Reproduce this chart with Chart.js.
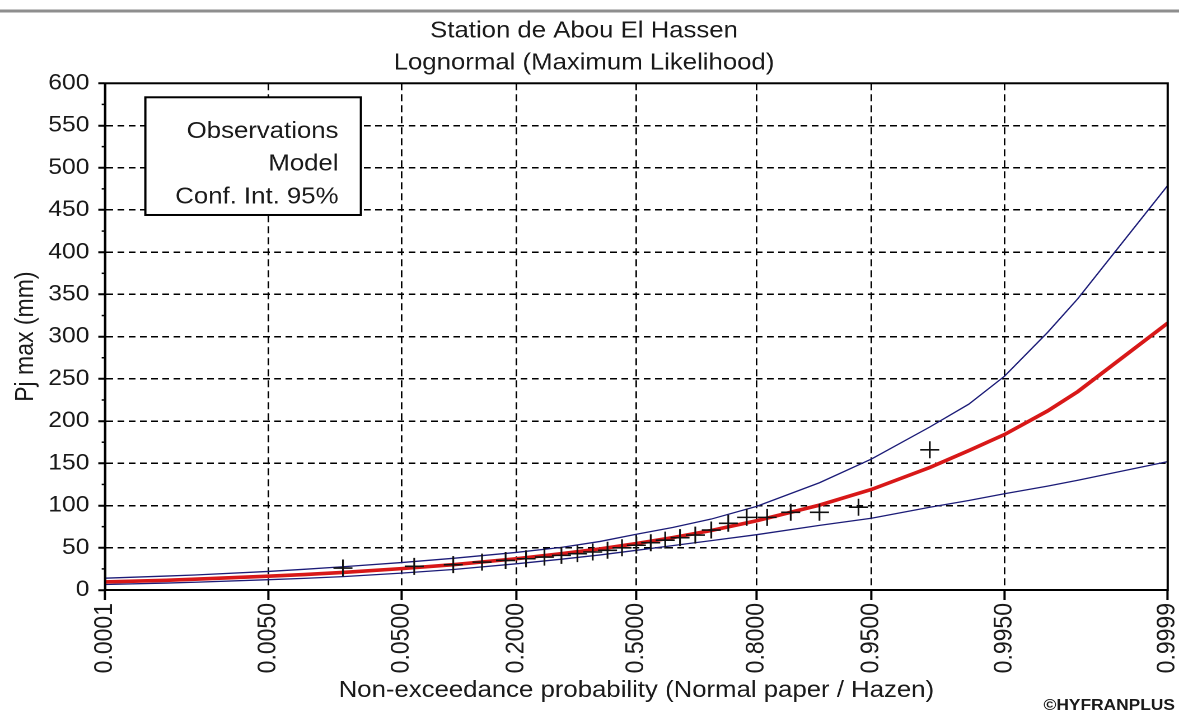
<!DOCTYPE html>
<html>
<head>
<meta charset="utf-8">
<title>Station de Abou El Hassen</title>
<script src="https://cdn.jsdelivr.net/npm/chart.js@4.4.1/dist/chart.umd.min.js"></script>
<style>
  html, body { margin: 0; padding: 0; background: #ffffff; overflow: hidden; }
  /* The chart is laid out on a 1053 px canvas and widened to fill the 1179 px window */
  #frame { position: relative; width: 1053px; height: 715px; transform: scaleX(1.119658); transform-origin: 0 0; }
</style>
</head>
<body>
<div id="frame"><canvas id="chart"></canvas></div>
<script>
// ---- Texts ----
const TITLE_LINES = ['Station de Abou El Hassen', 'Lognormal (Maximum Likelihood)'];
const X_TITLE = 'Non-exceedance probability (Normal paper / Hazen)';
const Y_TITLE = 'Pj max (mm)';
const CREDIT = '\u00A9HYFRANPLUS';

// ---- Probability axis ticks ----
const TICK_P = [0.0001, 0.005, 0.05, 0.2, 0.5, 0.8, 0.95, 0.995, 0.9999];
const TICK_LABELS = ['0.0001', '0.0050', '0.0500', '0.2000', '0.5000', '0.8000', '0.9500', '0.9950', '0.9999'];

// ---- Fitted lognormal quantiles and 95 % confidence bounds (mm) ----
const CURVE_P = [0.0001, 0.0005, 0.001, 0.005, 0.01, 0.02, 0.05, 0.1, 0.2, 0.3, 0.4, 0.5,
                 0.6, 0.7, 0.8, 0.9, 0.95, 0.98, 0.99, 0.995, 0.998, 0.999, 0.9999];
const MODEL    = [9.5, 11.5, 12.8, 16.3, 18.3, 20.8, 25.3, 30.0, 37.0, 43.0, 48.7, 55.0,
                  62.0, 70.5, 82.0, 100.5, 119.0, 145.0, 165.0, 184.0, 212.0, 235.0, 316.0];
const CI_UPPER = [14.0, 16.5, 17.8, 22.0, 24.5, 27.5, 32.5, 37.5, 44.5, 50.5, 57.5, 66.0,
                  74.0, 84.0, 99.0, 127.0, 155.0, 193.0, 220.0, 253.0, 305.0, 345.0, 479.0];
const CI_LOWER = [6.5, 8.2, 9.2, 12.2, 13.8, 15.8, 20.0, 24.3, 31.0, 36.5, 41.5, 47.0,
                  52.5, 58.5, 65.5, 76.5, 85.0, 98.0, 106.0, 114.0, 123.0, 130.0, 152.0];

// ---- Observed annual maxima with Hazen plotting positions ----
const OBS_P   = [0.02, 0.06, 0.10, 0.14, 0.18, 0.22, 0.26, 0.30, 0.34, 0.38, 0.42, 0.46, 0.50,
                 0.54, 0.58, 0.62, 0.66, 0.70, 0.74, 0.78, 0.82, 0.86, 0.90, 0.94, 0.98];
const OBS_VAL = [26, 28, 30, 33, 35, 37, 39, 41, 43, 45, 47, 50, 53,
                 56, 59, 62, 65, 71, 79, 86, 86, 92, 92, 98, 166];

const FONT = '"Liberation Sans", Arial, sans-serif';
const TEXT = '#1a1a1a';

// Inverse of the standard normal CDF (Acklam's rational approximation)
function probit(p) {
  const a = [-3.969683028665376e+01, 2.209460984245205e+02, -2.759285104469687e+02,
             1.383577518672690e+02, -3.066479806614716e+01, 2.506628277459239e+00];
  const b = [-5.447609879822406e+01, 1.615858368580409e+02, -1.556989798598866e+02,
             6.680131188771972e+01, -1.328068155288572e+01];
  const c = [-7.784894002430293e-03, -3.223964580411365e-01, -2.400758277161838e+00,
             -2.549732539343734e+00, 4.374664141464968e+00, 2.938163982698783e+00];
  const d = [7.784695709041462e-03, 3.224671290700398e-01, 2.445134137142996e+00,
             3.754408661907416e+00];
  const pl = 0.02425;
  let q, r;
  if (p < pl) {
    q = Math.sqrt(-2 * Math.log(p));
    return (((((c[0]*q + c[1])*q + c[2])*q + c[3])*q + c[4])*q + c[5]) /
           ((((d[0]*q + d[1])*q + d[2])*q + d[3])*q + 1);
  }
  if (p > 1 - pl) {
    q = Math.sqrt(-2 * Math.log(1 - p));
    return -(((((c[0]*q + c[1])*q + c[2])*q + c[3])*q + c[4])*q + c[5]) /
            ((((d[0]*q + d[1])*q + d[2])*q + d[3])*q + 1);
  }
  q = p - 0.5; r = q * q;
  return (((((a[0]*r + a[1])*r + a[2])*r + a[3])*r + a[4])*r + a[5]) * q /
         (((((b[0]*r + b[1])*r + b[2])*r + b[3])*r + b[4])*r + 1);
}
function normalCdf(z) {
  let lo = 1e-12, hi = 1 - 1e-12;
  for (let i = 0; i < 80; i++) {
    const mid = (lo + hi) / 2;
    if (probit(mid) < z) lo = mid; else hi = mid;
  }
  return (lo + hi) / 2;
}

// Normal probability paper: positions are linear in the standard normal variate
class ProbitScale extends Chart.Scale {
  static id = 'probit';
  static defaults = {};
  parse(raw) {
    if (raw === null || raw === undefined) return null;
    const v = +raw;
    return Number.isFinite(v) && v > 0 && v < 1 ? v : null;
  }
  determineDataLimits() {
    const { min, max } = this.getUserBounds();
    this.min = min;
    this.max = max;
  }
  buildTicks() {
    return TICK_P.map(value => ({ value }));
  }
  getLabelForValue(value) {
    return String(value);
  }
  configure() {
    super.configure();
    this._zMin = probit(this.min);
    this._zRange = probit(this.max) - this._zMin;
  }
  getPixelForValue(value) {
    if (value === null || value === undefined || isNaN(value)) return NaN;
    return this.getPixelForDecimal((probit(value) - this._zMin) / this._zRange);
  }
  getValueForPixel(pixel) {
    return normalCdf(this._zMin + this.getDecimalForPixel(pixel) * this._zRange);
  }
}
Chart.register(ProbitScale);

const toPoints = (ps, vs) => ps.map((p, i) => ({ x: p, y: vs[i] }));

// White page with the grey rule along the top, plus the credit line
const pagePlugin = {
  id: 'page',
  beforeDraw(chart) {
    const { ctx, width, height } = chart;
    ctx.save();
    ctx.fillStyle = '#ffffff';
    ctx.fillRect(0, 0, width, height);
    ctx.strokeStyle = '#8e8e8e';
    ctx.lineWidth = 3;
    ctx.beginPath();
    ctx.moveTo(0, 11);
    ctx.lineTo(width, 11);
    ctx.stroke();
    ctx.restore();
  },
  afterDraw(chart) {
    const { ctx, width } = chart;
    ctx.save();
    ctx.font = 'bold 15.5px ' + FONT;
    ctx.fillStyle = TEXT;
    ctx.textAlign = 'right';
    ctx.textBaseline = 'middle';
    ctx.fillText(CREDIT, width - 3.6, 705.5);
    ctx.restore();
  }
};

// Closed frame around the plot and short minor ticks on the value axis
const framePlugin = {
  id: 'plotFrame',
  afterDatasetsDraw(chart) {
    const { ctx, chartArea: a, scales: { y } } = chart;
    ctx.save();
    ctx.strokeStyle = '#000000';
    ctx.lineWidth = 2;
    ctx.strokeRect(a.left, a.top, a.right - a.left, a.bottom - a.top);
    ctx.lineWidth = 1.5;
    const t = y.ticks;
    for (let i = 0; i < t.length - 1; i++) {
      const py = y.getPixelForValue((t[i].value + t[i + 1].value) / 2);
      ctx.beginPath();
      ctx.moveTo(a.left - 3, py);
      ctx.lineTo(a.left, py);
      ctx.stroke();
    }
    ctx.restore();
  }
};

// Boxed key with the series names, right-aligned
const keyPlugin = {
  id: 'keyBox',
  afterDraw(chart) {
    const { ctx, chartArea: a } = chart;
    const names = [];
    chart.data.datasets.forEach(ds => { if (!names.includes(ds.label)) names.push(ds.label); });
    const left = a.left + 36, top = a.top + 14, w = 192.5, h = 117.7;
    ctx.save();
    ctx.fillStyle = '#ffffff';
    ctx.fillRect(left, top, w, h);
    ctx.strokeStyle = '#000000';
    ctx.lineWidth = 2;
    ctx.strokeRect(left, top, w, h);
    ctx.font = '23px ' + FONT;
    ctx.fillStyle = TEXT;
    ctx.textAlign = 'right';
    ctx.textBaseline = 'middle';
    names.forEach((n, i) => ctx.fillText(n, left + w - 20, top + 34.5 + i * 32.6));
    ctx.restore();
  }
};

new Chart(document.getElementById('chart'), {
  type: 'line',
  data: {
    datasets: [
      {
        label: 'Observations',
        data: toPoints(OBS_P, OBS_VAL),
        showLine: false,
        pointStyle: 'cross',
        pointRadius: 8.5,
        pointBorderWidth: 1.6,
        pointBorderColor: '#111111',
        borderColor: '#111111',
        order: 0
      },
      {
        label: 'Model',
        data: toPoints(CURVE_P, MODEL),
        borderColor: '#d81818',
        borderWidth: 3.6,
        pointRadius: 0,
        tension: 0,
        order: 1
      },
      {
        label: 'Conf. Int. 95%',
        data: toPoints(CURVE_P, CI_UPPER),
        borderColor: '#1c1c78',
        borderWidth: 1.3,
        pointRadius: 0,
        tension: 0,
        order: 2
      },
      {
        label: 'Conf. Int. 95%',
        data: toPoints(CURVE_P, CI_LOWER),
        borderColor: '#1c1c78',
        borderWidth: 1.3,
        pointRadius: 0,
        tension: 0,
        order: 3
      }
    ]
  },
  options: {
    responsive: true,
    maintainAspectRatio: false,
    animation: false,
    devicePixelRatio: 2,
    events: [],
    layout: { padding: { left: 0, top: 0, right: 9.8, bottom: 0 } },
    plugins: {
      legend: { display: false },
      tooltip: { enabled: false },
      title: {
        display: true,
        text: TITLE_LINES,
        color: TEXT,
        font: { family: FONT, size: 23, weight: 'normal', lineHeight: 1.378 },
        padding: { top: 15.5, bottom: 4.4 }
      }
    },
    scales: {
      x: {
        type: 'probit',
        axis: 'x',
        position: 'bottom',
        min: 0.0001,
        max: 0.9999,
        ticks: {
          autoSkip: false,
          minRotation: 90,
          maxRotation: 90,
          padding: 3,
          color: TEXT,
          font: { family: FONT, size: 23 },
          callback: (v, i) => TICK_LABELS[i]
        },
        grid: {
          color: '#000000',
          lineWidth: 1.4,
          tickLength: 10,
          tickWidth: 2,
          tickColor: '#000000',
          tickBorderDash: []
        },
        border: { display: true, color: '#000000', width: 2, dash: [7, 4] },
        title: {
          display: true,
          text: X_TITLE,
          color: TEXT,
          font: { family: FONT, size: 23 },
          padding: { top: 0, bottom: 10.7 }
        },
        afterFit(s) { s.height = 125; s.paddingLeft = 0; s.paddingRight = 0; }
      },
      y: {
        type: 'linear',
        position: 'left',
        min: 0,
        max: 600,
        ticks: {
          stepSize: 50,
          padding: 8,
          color: TEXT,
          font: { family: FONT, size: 22 }
        },
        grid: {
          color: '#000000',
          lineWidth: 1.5,
          tickLength: 6,
          tickWidth: 2,
          tickColor: '#000000',
          tickBorderDash: []
        },
        border: { display: true, color: '#000000', width: 2, dash: [6, 4] },
        title: {
          display: true,
          text: Y_TITLE,
          color: TEXT,
          font: { family: FONT, size: 23 },
          padding: { top: 9.5, bottom: 0 }
        },
        afterFit(s) { s.width = 93.8; s.paddingTop = 0; s.paddingBottom = 0; }
      }
    }
  },
  plugins: [pagePlugin, framePlugin, keyPlugin]
});
</script>
</body>
</html>
